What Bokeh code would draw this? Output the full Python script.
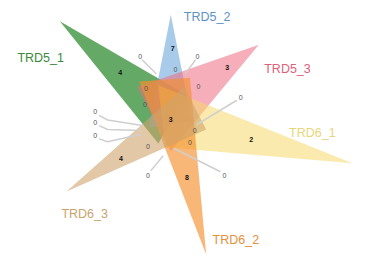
from bokeh.plotting import figure
from bokeh.models import Range1d
from bokeh.core.properties import value
from bokeh.embed import file_html
from bokeh.resources import INLINE

# ---- data ----
set_names = ["TRD5_1", "TRD5_2", "TRD5_3", "TRD6_1", "TRD6_2", "TRD6_3"]
unique_counts = [4, 7, 3, 2, 8, 4]
core_count = [3]
inner_zero_counts = [0, 0, 0, 0, 0, 0, 0]
outer_zero_counts = [0, 0, 0, 0, 0, 0, 0, 0]

# ---- styles / layout ----
fill_colors = ["#3f9440", "#6fa8dc", "#ee6b82", "#f6d86a", "#f5902e", "#cfa46a"]
fill_alphas = [0.8, 0.6, 0.55, 0.55, 0.65, 0.6]
label_colors = ["#3a8a3a", "#5b93c7", "#e0607a", "#e8d67a", "#e5903a", "#c8a46e"]

tri_x = [[62, 194, 165], [178, 155, 200], [270, 143, 178],
         [368, 165, 172], [215, 145, 198], [69, 192, 215]]
tri_y = [[22, 100, 152], [15, 135, 128], [47, 92, 160],
         [173, 90, 156], [270, 86, 82], [203, 92, 137]]

name_x = [42, 216, 300, 326, 246, 88]
name_y = [61, 18, 73, 141, 254, 227]

uniq_x = [125, 180, 237, 262, 195, 126]
uniq_y = [77, 51, 71, 148, 188, 168]
core_xy = (178, 126)

inner_x = [152, 151, 183, 207, 203, 198, 154]
inner_y = [93, 110, 73, 91, 138, 151, 155]

outer_x = [146, 206, 251, 99, 99, 99, 154, 234]
outer_y = [59, 59, 103, 118, 130, 143, 186, 186]
leader_xs = [[148, 163], [204, 193], [247, 205], [103, 112, 150], [103, 112, 147],
             [103, 112, 147], [157, 170], [230, 181]]
leader_ys = [[63, 78], [63, 78], [106, 132], [122, 127, 133], [133, 137, 138],
             [147, 150, 142], [181, 165], [182, 157]]

p = figure(width=353, height=256, x_range=Range1d(0, 369), y_range=Range1d(272, 0),
           output_backend="svg", toolbar_location=None, min_border=0,
           x_axis_type=None, y_axis_type=None)
p.grid.visible = False
p.outline_line_color = None
p.background_fill_color = "white"

for i in range(6):
    p.patch(tri_x[i], tri_y[i], fill_color=fill_colors[i], fill_alpha=fill_alphas[i],
            line_color=None)

p.multi_line(leader_xs, leader_ys, line_color="#cfcfcf", line_width=1.5)

font = value("Liberation Sans")
p.text(x=name_x, y=name_y, text=set_names, text_color=label_colors,
       text_font=font, text_font_size="12.5px", text_align="center", text_baseline="middle")

p.text(x=uniq_x + [core_xy[0]], y=uniq_y + [core_xy[1]],
       text=[str(v) for v in unique_counts + core_count], text_color="#111111",
       text_font=font, text_font_size="7px", text_font_style="bold",
       text_align="center", text_baseline="middle")

p.text(x=inner_x, y=inner_y, text=[str(v) for v in inner_zero_counts], text_color="#555555",
       text_font=font, text_font_size="7px", text_align="center", text_baseline="middle")
p.text(x=outer_x, y=outer_y, text=[str(v) for v in outer_zero_counts], text_color="#555555",
       text_font=font, text_font_size="7px", text_align="center", text_baseline="middle")

open("out.html", "w").write(file_html(p, INLINE))
